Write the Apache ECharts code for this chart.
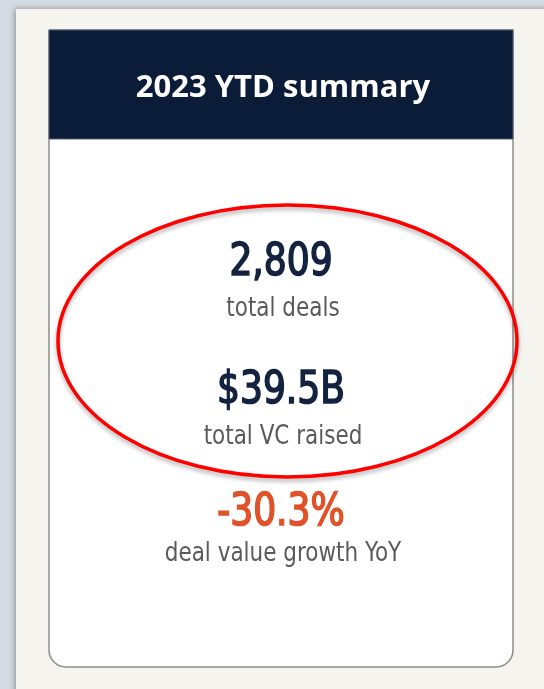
<!DOCTYPE html>
<html>
<head>
<meta charset="utf-8">
<script src="https://cdn.jsdelivr.net/npm/echarts@6/dist/echarts.min.js"></script>
<style>
html,body{margin:0;padding:0;background:#d4dbe2;}
#chart{width:544px;height:689px;}
</style>
</head>
<body>
<div id="chart"></div>
<script>
// ---- data ----
const title = '2023 YTD summary';
const statValues = ['2,809', '$39.5B', '-30.3%'];
const statLabels = ['total deals', 'total VC raised', 'deal value growth YoY'];
const statColors = ['#13223f', '#13223f', '#e0522a'];
const highlighted = [0, 1]; // stats circled in red

const chart = echarts.init(document.getElementById('chart'), null, {renderer: 'canvas'});

const cardX = 49, cardY = 30, cardW = 464, cardH = 637, headH = 109;
const cx = 281;
const valueY = [264, 392, 514];
const labelY = [309, 437, 554];

const elements = [
  {type: 'rect', shape: {x: 0, y: 0, width: 544, height: 689}, style: {fill: '#d4dbe2'}},
  {type: 'rect', shape: {x: 16, y: 9, width: 540, height: 700},
   style: {fill: '#f6f4ef', shadowBlur: 6, shadowColor: 'rgba(0,0,0,0.35)', shadowOffsetX: -1}},
  {type: 'rect', shape: {x: cardX, y: cardY, width: cardW, height: cardH, r: [0, 0, 17, 17]},
   style: {fill: '#ffffff', stroke: '#8c8c8c', lineWidth: 1.5}},
  {type: 'rect', shape: {x: cardX, y: cardY, width: cardW, height: headH},
   style: {fill: '#0b1c38', stroke: '#5a6070', lineWidth: 1}},
  {type: 'text', x: 283, y: 88,
   style: {text: title, fill: '#ffffff', font: 'bold 31px "Open Sans", sans-serif', align: 'center', verticalAlign: 'middle'}}
];

statValues.forEach(function (v, i) {
  elements.push({type: 'text', x: cx, y: valueY[i], scaleX: 0.91,
    style: {text: v, fill: statColors[i], stroke: statColors[i], lineWidth: 1.6,
            font: '44px "DejaVu Sans Condensed", sans-serif', align: 'center', verticalAlign: 'middle'}});
  elements.push({type: 'text', x: cx + 2, y: labelY[i], scaleX: 0.92,
    style: {text: statLabels[i], fill: '#5a5a5a', font: '26px "DejaVu Sans Condensed", sans-serif', align: 'center', verticalAlign: 'middle'}});
});

// red ellipse around highlighted stats
elements.push({type: 'ellipse', shape: {cx: 287.5, cy: 341, rx: 229.5, ry: 136},
  style: {fill: 'none', stroke: '#ff0000', lineWidth: 3.5, shadowBlur: 4, shadowColor: 'rgba(0,0,0,0.3)', shadowOffsetY: 3}});

chart.setOption({
  animation: false,
  graphic: {elements: elements}
});
</script>
</body>
</html>
